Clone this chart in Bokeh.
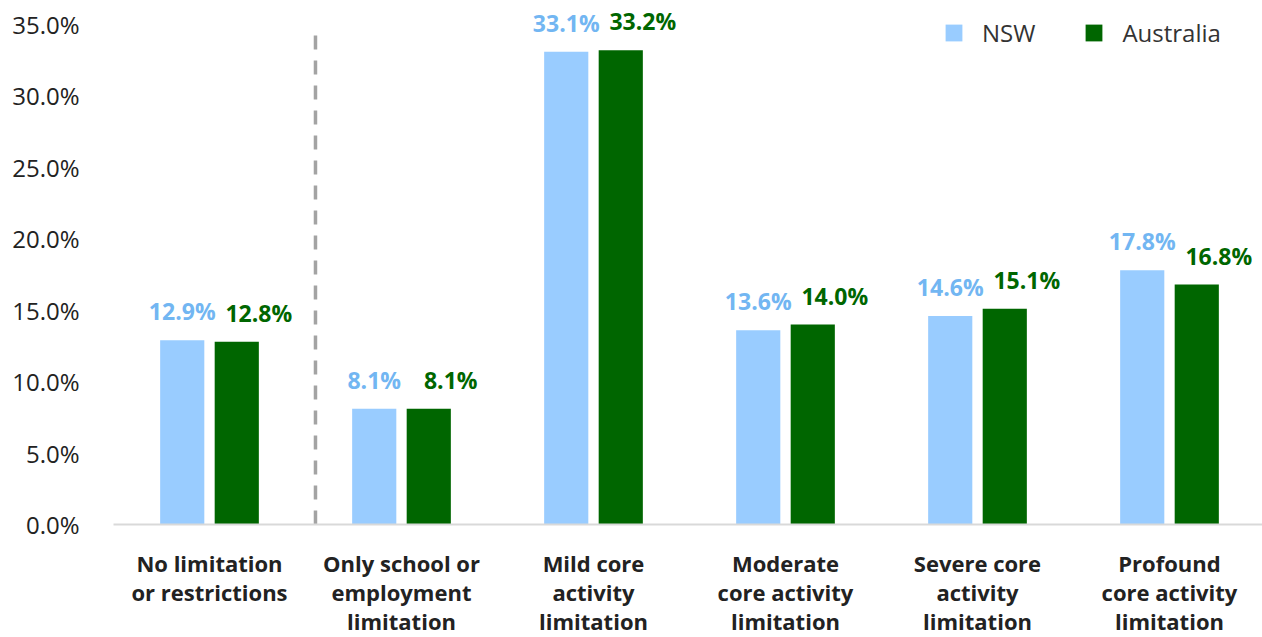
from bokeh.plotting import figure
from bokeh.models import (ColumnDataSource, FixedTicker, PrintfTickFormatter,
                          Legend, LegendItem, Range1d)
from bokeh.core.properties import value
from bokeh.embed import file_html
from bokeh.resources import INLINE

# Share of people by disability / limitation status
categories = [
    "No limitation\nor restrictions",
    "Only school or\nemployment\nlimitation",
    "Mild core\nactivity\nlimitation",
    "Moderate\ncore activity\nlimitation",
    "Severe core\nactivity\nlimitation",
    "Profound\ncore activity\nlimitation",
]
nsw = [12.9, 8.1, 33.1, 13.6, 14.6, 17.8]
australia = [12.8, 8.1, 33.2, 14.0, 15.1, 16.8]
y_ticks = [0, 5, 10, 15, 20, 25, 30, 35]

NSW_COLOR = "#99CCFF"
NSW_TEXT = "#72B6F2"
AUS_COLOR = "#006600"
FONT = "Open Sans"

centers = [i + 0.5 for i in range(len(categories))]
offset = 0.142
bar_w = 0.23

src = ColumnDataSource(dict(
    x_nsw=[c - offset for c in centers],
    x_aus=[c + offset for c in centers],
    nsw=nsw,
    aus=australia,
    nsw_lbl=[f"{v:.1f}%" for v in nsw],
    aus_lbl=[f"{v:.1f}%" for v in australia],
))

p = figure(width=1262, height=637, frame_width=1149, frame_height=520,
           output_backend="svg", toolbar_location=None,
           x_range=Range1d(0, 1149 / 192), y_range=Range1d(0, 36.4),
           min_border_left=113, min_border_right=0, min_border_top=4,
           min_border_bottom=0)
p.outline_line_color = None
p.grid.visible = False
p.background_fill_color = "white"

r_nsw = p.vbar(x="x_nsw", top="nsw", width=bar_w, bottom=0, source=src,
               fill_color=NSW_COLOR, line_color=None)
r_aus = p.vbar(x="x_aus", top="aus", width=bar_w, bottom=0, source=src,
               fill_color=AUS_COLOR, line_color=None)

p.text(x="x_nsw", y="nsw", text="nsw_lbl", source=src, y_offset=-29,
       text_align="center", text_baseline="alphabetic", text_color=NSW_TEXT,
       text_font=value(FONT), text_font_size="23px", text_font_style="bold")
p.text(x="x_aus", y="aus", text="aus_lbl", source=src, y_offset=-29,
       x_offset=22,
       text_align="center", text_baseline="alphabetic", text_color=AUS_COLOR,
       text_font=value(FONT), text_font_size="23px", text_font_style="bold")

# Dashed separator after the first category
p.segment(x0=1.052, y0=0, x1=1.052, y1=34.7, line_color="#A3A3A3",
          line_width=3.5, line_dash="14 11")

# Y axis: labels only
p.yaxis.ticker = FixedTicker(ticks=y_ticks)
p.yaxis.formatter = PrintfTickFormatter(format="%.1f%%")
p.yaxis.axis_line_color = None
p.yaxis.major_tick_line_color = None
p.yaxis.minor_tick_line_color = None
p.yaxis.major_label_standoff = 28
p.yaxis.major_label_text_font = FONT
p.yaxis.major_label_text_font_size = "24px"
p.yaxis.major_label_text_color = "#222222"

# X axis: baseline with multi-line category labels
p.xaxis.ticker = FixedTicker(ticks=centers)
p.xaxis.major_label_overrides = {c: lbl for c, lbl in zip(centers, categories)}
p.xaxis.axis_line_color = "#D9D9D9"
p.xaxis.axis_line_width = 2
p.xaxis.major_tick_line_color = None
p.xaxis.minor_tick_line_color = None
p.xaxis.major_label_standoff = 17
p.xaxis.major_label_text_font = FONT
p.xaxis.major_label_text_font_size = "22px"
p.xaxis.major_label_text_font_style = "bold"
p.xaxis.major_label_text_color = "#222222"
p.xaxis.major_label_text_line_height = 0.97

legend = Legend(items=[LegendItem(label="NSW", renderers=[r_nsw]),
                       LegendItem(label="Australia", renderers=[r_aus])],
                orientation="horizontal", location=(830, 475),
                glyph_width=21, glyph_height=21, label_standoff=18,
                spacing=48, padding=0, margin=0,
                border_line_color=None, background_fill_alpha=0,
                label_text_font=FONT, label_text_font_size="24px",
                label_text_color="#333333")
p.add_layout(legend)

open("out.html", "w").write(file_html(p, INLINE))
